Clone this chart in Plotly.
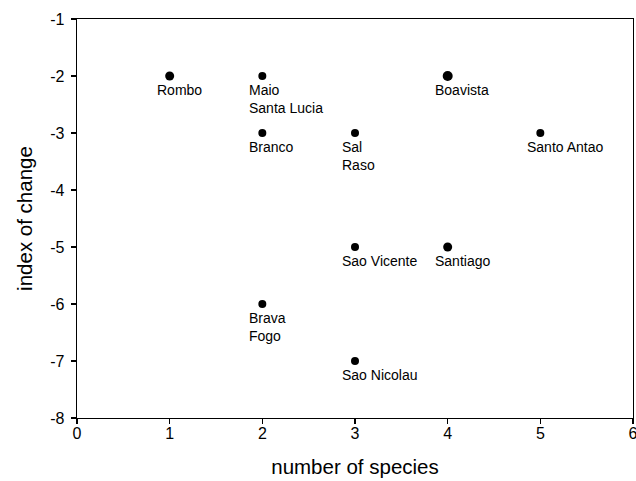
import plotly.graph_objects as go

species = [1, 2, 4, 2, 3, 5, 3, 4, 2, 3]
change = [-2, -2, -2, -3, -3, -3, -5, -5, -6, -7]
labels = ["Rombo", "Maio<br>Santa Lucia", "Boavista", "Branco", "Sal<br>Raso",
          "Santo Antao", "Sao Vicente", "Santiago", "Brava<br>Fogo", "Sao Nicolau"]
sizes = [9, 8, 10, 8, 8, 8, 8, 9, 8, 8]

x_ticks = [0, 1, 2, 3, 4, 5, 6]
y_ticks = [-1, -2, -3, -4, -5, -6, -7, -8]

FONT = "Liberation Sans, Arial"

fig = go.Figure()
fig.add_trace(go.Scatter(
    x=species, y=change, mode="markers",
    marker=dict(color="#000000", size=sizes, line=dict(width=0), opacity=1),
    showlegend=False, hoverinfo="skip", cliponaxis=False))

for xv, yv, lab in zip(species, change, labels):
    fig.add_annotation(x=xv, y=yv, text=lab, showarrow=False,
                       xanchor="left", yanchor="top", align="left",
                       xshift=-15, yshift=-4,
                       font=dict(family=FONT, size=14, color="black"))

axis_common = dict(showline=True, linecolor="black", linewidth=1.3, mirror=True,
                   showgrid=False, zeroline=False, ticks="outside", ticklen=5,
                   tickcolor="black", tickwidth=1.3, ticklabeloverflow="allow",
                   automargin=False,
                   tickfont=dict(family=FONT, size=16, color="black"))

fig.update_xaxes(range=[0, 6], tickvals=x_ticks, ticktext=[str(v) for v in x_ticks],
                 ticklabelstandoff=-5,
                 title=dict(text="number of species", standoff=19,
                            font=dict(family=FONT, size=20.5, color="black")),
                 **axis_common)
fig.update_yaxes(range=[-8, -1], tickvals=y_ticks, ticktext=[str(v) for v in y_ticks],
                 ticklabelstandoff=3,
                 title=dict(text="index of change", standoff=12,
                            font=dict(family=FONT, size=20.5, color="black")),
                 **axis_common)

fig.update_layout(template="none", width=636, height=481,
                  margin=dict(l=77, r=3, t=19, b=63),
                  plot_bgcolor="white", paper_bgcolor="white")

fig.write_html("out.html",
               config={"displayModeBar": False, "staticPlot": True},
               post_script="document.body.style.margin='0';document.body.style.overflow='hidden';")
